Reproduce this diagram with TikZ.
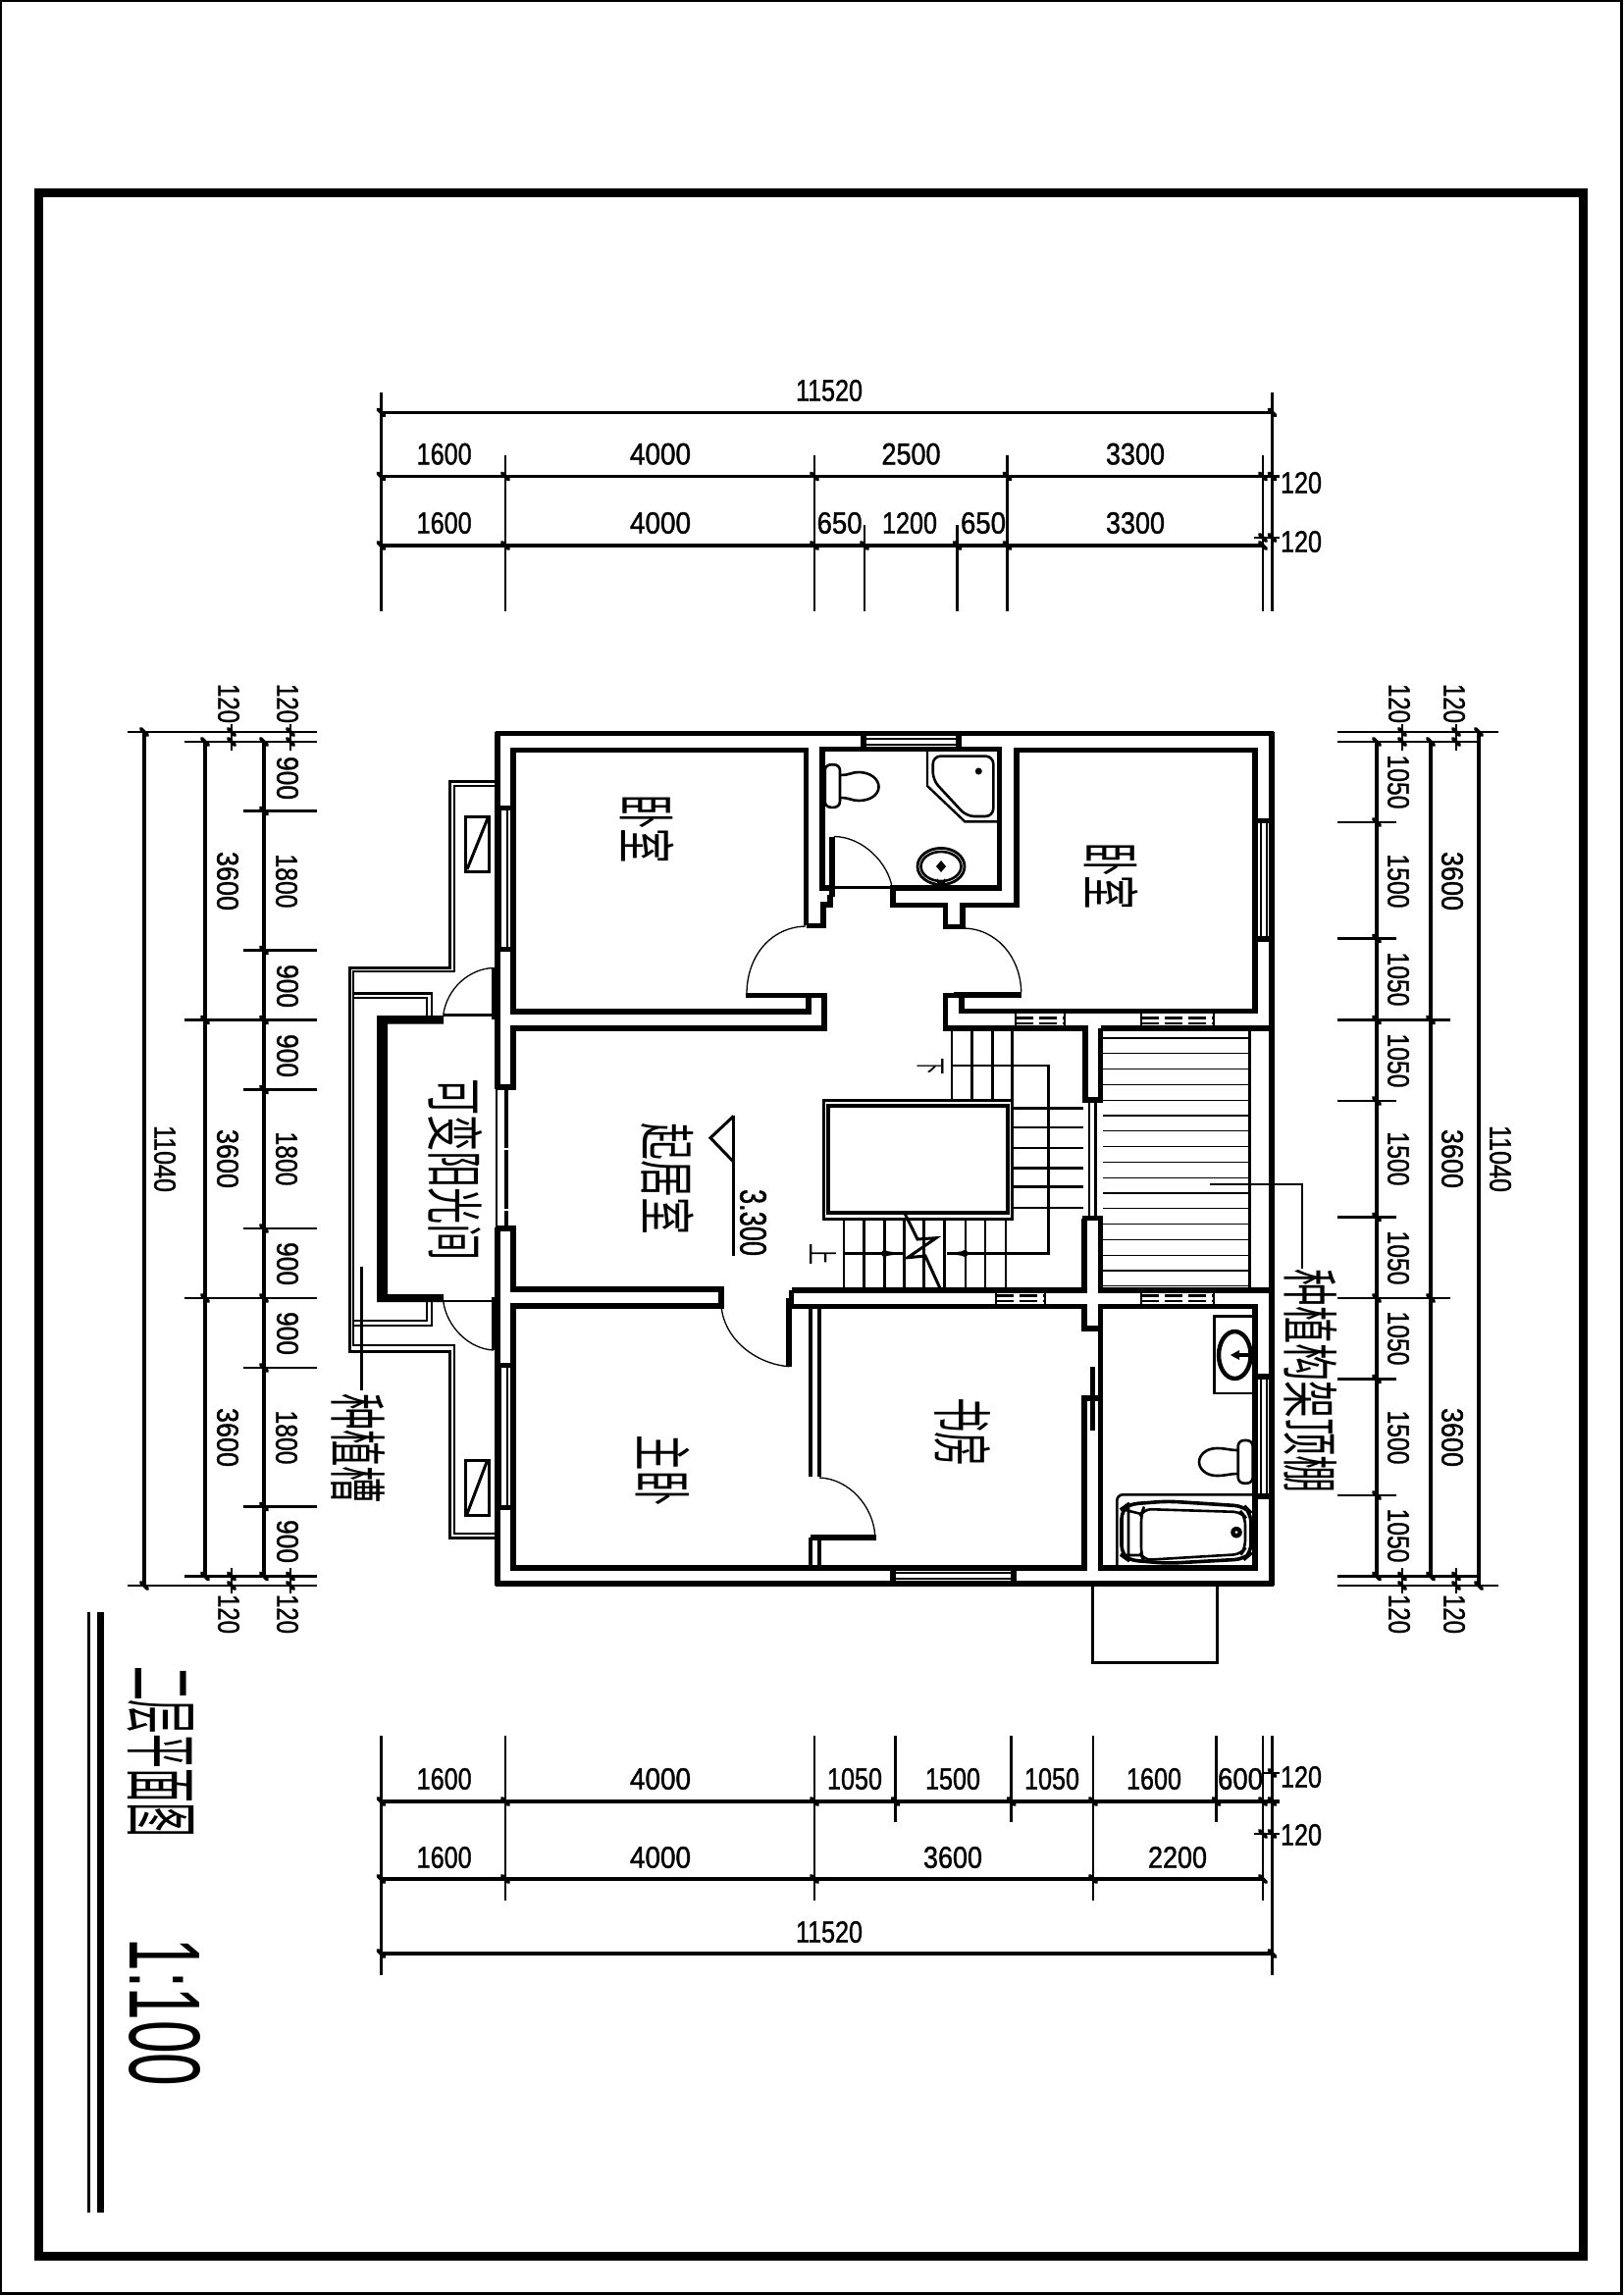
\documentclass[tikz,border=0pt]{standalone}
\usepackage{graphicx}
\usepackage{fontspec}
\setmainfont[FakeBold=1.2]{Liberation Sans}
\newfontfamily\cjk{Noto Sans CJK SC}
\newfontfamily\thinf[FakeBold=0]{Liberation Sans}
\newlength{\pxu}\setlength{\pxu}{0.5pt}
\newcounter{lb}
\tikzset{
 wl/.style={line width=2.6pt,line cap=butt,line join=miter},
 thn/.style={line width=1.3pt},
 hair/.style={line width=0.65pt},
 dimln/.style={line width=1.6pt},
 ext/.style={line width=1.35pt},
 tickm/.style={line width=1.9pt,line cap=round},
 wcap/.style={line width=2.6pt},
 fix/.style={line width=1.3pt},
 lbl/.style={inner sep=0pt,outer sep=0pt},
}
\newcommand\hn[4]{\stepcounter{lb}\node[lbl] (n\thelb) at (#1,#2) {\resizebox*{#3\pxu}{22\pxu}{#4}};}
\newcommand\vn[4]{\stepcounter{lb}\node[lbl,rotate=-90] (n\thelb) at (#1,#2) {\resizebox*{#3\pxu}{22\pxu}{#4}};}
\newcommand\cn[5]{\stepcounter{lb}\node[lbl,rotate=-90] (n\thelb) at (#1,#2) {\resizebox*{#3\pxu}{#4\pxu}{\cjk #5}};}
\newcommand\tk[2]{\draw[tickm,shift={(#1,#2)}] (-3.2,-3.2)--(3.2,3.2);}
\begin{document}
\begin{tikzpicture}[x=0.5pt,y=-0.5pt]
\useasboundingbox (0,0) rectangle (1654,2339);
\fill[white] (0,0) rectangle (1654,2339);
% frames
\draw[line width=1.2pt] (1,1) rectangle (1652.5,2337.5);
\draw[line width=4.5pt] (39.5,196.5) rectangle (1613.5,2299);
% title rules
\fill (89,1643) rectangle (92,2255);
\fill (99,1643) rectangle (105.7,2255);
\cn{164}{1785}{174}{68}{二层平面图}
\stepcounter{lb}\node[lbl,rotate=-90] (n\thelb) at (168.5,2051) {\resizebox*{151\pxu}{73\pxu}{\thinf 1:100}};

% TOP DIMENSIONS
\draw[dimln] (388.4,420.3)--(1296.5,420.3);
\draw[dimln] (388.4,485.5)--(1304,485.5);
\draw[dimln] (388.4,556)--(1287,556);
\draw[thn] (1278,548)--(1304,548);
\draw[ext] (388.4,400)--(388.4,623);
\draw[ext] (1296.5,400)--(1296.5,623);
\foreach \x in {515,830,1026.5,1287}{\draw[ext] (\x,464)--(\x,623);}
\foreach \x in {881,975.6}{\draw[ext] (\x,535)--(\x,623);}
\foreach \x in {388.4,1296.5}{\tk{\x}{420.3}}
\foreach \x in {388.4,515,830,1026.5,1287,1296.5}{\tk{\x}{485.5}}
\foreach \x in {388.4,515,830,881,975.6,1026.5,1287}{\tk{\x}{556}}
\foreach \x in {1287,1296.5}{\tk{\x}{548}}
\hn{845}{398}{68}{11520}
\hn{452.7}{462.7}{56}{1600}\hn{673}{462.7}{62}{4000}\hn{928.5}{462.7}{60}{2500}\hn{1157}{462.7}{60}{3300}
\hn{452.7}{533}{56}{1600}\hn{673}{533}{62}{4000}\hn{855.6}{533}{46}{650}\hn{927}{533}{56}{1200}\hn{1002}{533}{46}{650}\hn{1157}{533}{60}{3300}
\hn{1326}{492}{42}{120}\hn{1326}{552}{42}{120}

% BOTTOM DIMENSIONS
\draw[dimln] (388.4,1836)--(1304,1836);
\draw[dimln] (388.4,1915)--(1287,1915);
\draw[dimln] (388.4,1991)--(1296.5,1991);
\draw[thn] (1287,1807)--(1304,1807);
\draw[thn] (1278,1869)--(1304,1869);
\draw[ext] (388.4,1769)--(388.4,2013);
\draw[ext] (1296.5,1769)--(1296.5,2013);
\foreach \x in {515,830,1114,1287}{\draw[ext] (\x,1769)--(\x,1937);}
\foreach \x in {912.6,1030.7,1239.6}{\draw[ext] (\x,1769)--(\x,1857);}
\foreach \x in {388.4,515,830,912.6,1030.7,1114,1239.6,1287,1296.5}{\tk{\x}{1836}}
\foreach \x in {388.4,515,830,1114,1287}{\tk{\x}{1915}}
\foreach \x in {388.4,1296.5}{\tk{\x}{1991}}
\foreach \x in {1287,1296.5}{\tk{\x}{1869}}
\tk{1296.5}{1807}
\hn{452.7}{1813}{56}{1600}\hn{673}{1813}{62}{4000}\hn{871}{1813}{56}{1050}\hn{971}{1813}{56}{1500}\hn{1072}{1813}{56}{1050}\hn{1176}{1813}{56}{1600}\hn{1264}{1813}{46}{600}
\hn{452.7}{1893}{56}{1600}\hn{673}{1893}{62}{4000}\hn{971}{1893}{60}{3600}\hn{1200}{1893}{60}{2200}
\hn{845}{1969}{68}{11520}
\hn{1326}{1811}{42}{120}\hn{1326}{1870}{42}{120}

% LEFT DIMENSIONS
\draw[ext] (130,746)--(323,746);
\draw[ext] (188,756)--(323,756);
\draw[ext] (188,1606.5)--(323,1606.5);
\draw[ext] (130,1616)--(323,1616);
\draw[ext] (188,1039.5)--(323,1039.5);
\draw[ext] (188,1323)--(323,1323);
\foreach \y in {826.5,968.5,1110.5,1252,1394,1535.5}{\draw[ext] (248,\y)--(323,\y);}
\draw[dimln] (147,746)--(147,1616);
\draw[dimln] (209,756)--(209,1606.5);
\draw[dimln] (269,756)--(269,1606.5);
\tk{147}{746}\tk{147}{1616}
\foreach \y in {756,1039.5,1323,1606.5}{\tk{209}{\y}}
\foreach \y in {756,826.5,968.5,1039.5,1110.5,1252,1323,1394,1535.5,1606.5}{\tk{269}{\y}}
\foreach \x in {236,296}{
 \draw[thn] (\x,738)--(\x,765);\draw[thn] (\x,1598)--(\x,1624);
 \tk{\x}{746}\tk{\x}{756}\tk{\x}{1606.5}\tk{\x}{1616}}
\vn{168}{1181}{68}{11040}
\vn{233}{717}{40}{120}\vn{293}{717}{40}{120}\vn{233}{1645}{40}{120}\vn{293}{1645}{40}{120}
\vn{232}{898}{60}{3600}\vn{232}{1181}{60}{3600}\vn{232}{1465}{60}{3600}
\vn{293}{793}{44}{900}\vn{292}{898}{55}{1800}\vn{293}{1005}{44}{900}
\vn{293}{1076}{44}{900}\vn{292}{1181}{55}{1800}\vn{293}{1288}{44}{900}
\vn{293}{1359}{44}{900}\vn{292}{1465}{55}{1800}\vn{293}{1571}{44}{900}

% RIGHT DIMENSIONS
\draw[ext] (1363,746)--(1527,746);
\draw[ext] (1363,756)--(1507,756);
\draw[ext] (1363,1606.5)--(1507,1606.5);
\draw[ext] (1363,1616)--(1527,1616);
\draw[ext] (1363,1039.5)--(1478,1039.5);
\draw[ext] (1363,1323)--(1478,1323);
\foreach \y in {838,956.5,1122,1240.5,1405.5,1524}{\draw[ext] (1363,\y)--(1423,\y);}
\draw[dimln] (1403,756)--(1403,1606.5);
\draw[dimln] (1458,756)--(1458,1606.5);
\draw[dimln] (1507,746)--(1507,1616);
\tk{1507}{746}\tk{1507}{1616}
\foreach \y in {756,1039.5,1323,1606.5}{\tk{1458}{\y}}
\foreach \y in {756,838,956.5,1039.5,1122,1240.5,1323,1405.5,1524,1606.5}{\tk{1403}{\y}}
\foreach \x in {1429,1484}{
 \draw[thn] (\x,738)--(\x,765);\draw[thn] (\x,1598)--(\x,1624);
 \tk{\x}{746}\tk{\x}{756}\tk{\x}{1606.5}\tk{\x}{1616}}
\vn{1529}{1181}{68}{11040}
\vn{1426}{717}{40}{120}\vn{1482}{717}{40}{120}\vn{1426}{1645}{40}{120}\vn{1482}{1645}{40}{120}
\vn{1480}{898}{60}{3600}\vn{1480}{1181}{60}{3600}\vn{1480}{1465}{60}{3600}
\vn{1425}{797}{55}{1050}\vn{1425}{898}{55}{1500}\vn{1425}{998}{55}{1050}
\vn{1425}{1081}{55}{1050}\vn{1425}{1181}{55}{1500}\vn{1425}{1282}{55}{1050}
\vn{1425}{1364}{55}{1050}\vn{1425}{1465}{55}{1500}\vn{1425}{1565}{55}{1050}

% OUTER WALLS
\draw[wl] (507,745.5)--(507,1110);
\draw[wl] (507,1251)--(507,1616);
\draw[wl] (505,747.7)--(1298,747.7);
\draw[wl] (1296,745.5)--(1296,1616);
\draw[wl] (505,1614)--(1298,1614);
% rooms
\draw[wl] (821.7,943.4)--(821.7,764.5)--(523,764.5)--(523,1031)--(824,1031)--(824,1014);
\draw[wl] (821.7,943.4)--(839,943.4)--(839,922)--(846,922)--(846,912);
\draw[wl] (846,905)--(838,905)--(838,763.5)--(1018.3,763.5)--(1018.3,905)--(910,905)--(910,922.5)--(963.3,922.5)--(963.3,944.6)--(981,944.6)--(981,922.5)--(1036,922.5)--(1036,764.3)--(1279,764.3)--(1279,1030.4)--(980,1030.4)--(980,1014.6);
\draw[line width=2.8pt] (847.7,852.5)--(847.7,914);
\draw[thn] (850,904.5)--(910,904.5);
\draw[wl] (972,1014.6)--(963.3,1014.6)--(963.3,1048)--(1106,1048)--(1106,1121);
\draw[wl] (1121.7,1121)--(1121.7,1048);
\draw[wl] (1121.7,1048)--(1296,1048);
\draw[line width=2.8pt] (971.7,1013.8)--(1040.7,1013.8);
\draw[line width=2.8pt] (760,1014.6)--(830.7,1014.6);
\draw[wl] (830.7,1014.6)--(840,1014.6)--(840,1048)--(523,1048)--(523,1108);
\draw[wl] (523,1251)--(523,1314)--(735,1314)--(735,1331)--(523,1331)--(523,1598)--(1105,1598)--(1105,1425)--(1121.7,1425);
\draw[wl] (806.7,1315)--(806.7,1331.7)--(1105,1331.7)--(1105,1354)--(1121.7,1354);
\draw[wl] (806.7,1315)--(1105,1315)--(1105,1241.7);
\draw[wl] (1121.7,1241.7)--(1121.7,1315)--(1296,1315);
\draw[wl] (1121.7,1598)--(1121.7,1331.7)--(1279,1331.7)--(1279,1598)--cycle;
\draw[line width=3pt] (804,1323)--(804,1392.7);
\draw[line width=2.2pt] (1113.3,1393.3)--(1113.3,1458);
\draw[line width=1.6pt] (826,1331.7)--(826,1505) (835,1331.7)--(835,1505);
\draw[line width=1.6pt] (826,1566.7)--(826,1598) (835,1566.7)--(835,1598);
\draw[line width=2.8pt] (826,1566.7)--(892.7,1566.7);
% door arcs
\draw[hair] (761,1013) .. controls (761,975) and (785,945) .. (821,944);
\draw[hair] (981,946) .. controls (1015,946) and (1040,975) .. (1040.7,1011);
\draw[hair] (850,852.5) .. controls (880,853) and (905,880) .. (909,904);
\draw[hair] (735,1331) .. controls (738,1365) and (770,1390) .. (804,1392.7);
\draw[hair] (835,1506) .. controls (865,1507) and (890,1535) .. (891.7,1565);
\draw[hair] (503,986.5) .. controls (478,987) and (455,1008) .. (451.7,1034.7);
\draw[hair] (451.7,1326) .. controls (455,1352) and (478,1375) .. (503,1376);
% windows left
\foreach \wa/\wb in {823.6/967.8,1391.7/1536.7}{
 \foreach \x in {510,517}{\draw[thn] (\x,\wa)--(\x,\wb);}
 \draw[wcap] (505,\wa)--(526,\wa);\draw[wcap] (505,\wb)--(526,\wb);}
% living window
\draw[thn] (506,1110)--(506,1251);
\draw[line width=2.2pt,dash pattern=on 30pt off 1pt] (516,1110)--(516,1251);
\draw[wcap] (505,1108)--(526,1108);\draw[wcap] (505,1252)--(526,1252);
% balcony doors
\draw[line width=2.4pt] (503,986)--(503,1039);
\draw[line width=2.4pt] (503,1322)--(503,1376);
\draw[thn] (451.7,1034.7)--(505,1034.7);
\draw[thn] (451.7,1326)--(505,1326);
% top window
\foreach \y in {753,759}{\draw[thn] (880,\y)--(977,\y);}
\draw[wcap] (880,746)--(880,765);\draw[wcap] (977,746)--(977,765);
% right windows
\foreach \wa/\wb in {836.6/957,1403/1525}{
 \foreach \x in {1285,1291}{\draw[thn] (\x,\wa)--(\x,\wb);}
 \draw[wcap] (1277,\wa)--(1298,\wa);\draw[wcap] (1277,\wb)--(1298,\wb);}
% corridor window
\foreach \x in {1110,1116.7}{\draw[thn] (\x,1121)--(\x,1241.7);}
\draw[wcap] (1103,1121)--(1124,1121);\draw[wcap] (1103,1241.7)--(1124,1241.7);
% bottom window
\foreach \y in {1603,1609}{\draw[thn] (910,\y)--(1033,\y);}
\draw[wcap] (910,1596)--(910,1616);\draw[wcap] (1033,1596)--(1033,1616);
% dashed wall windows
\foreach \wa/\wb/\wt/\wu in {1035/1085/1032/1048,1163/1237/1032/1048,1015/1065/1315/1331.7,1163/1237/1315/1331.7}{
 \draw[thn] (\wa,\wt)--(\wa,\wu);\draw[thn] (\wb,\wt)--(\wb,\wu);
 \draw[line width=1.4pt,dash pattern=on 9pt off 3pt] (\wa,\wt+5.5)--(\wb,\wt+5.5);
 \draw[line width=1.4pt,dash pattern=on 9pt off 3pt] (\wa,\wt+11)--(\wb,\wt+11);}
% balcony planter lines
\draw[line width=1.5pt] (505,796)--(458,796)--(458,986.5)--(356,986.5)--(356,1377)--(458,1377)--(458,1567.7)--(505,1567.7);
\draw[line width=1.1pt] (505,801)--(463,801)--(463,990)--(360,990)--(360,1371)--(463,1371)--(463,1563)--(505,1563);
\draw[line width=1.2pt] (361,1012.4)--(440,1012.4)--(440,1034.7);
\draw[line width=1.2pt] (361,1017)--(435,1017)--(435,1034.7);
\draw[line width=1.2pt] (361,1351)--(440,1351)--(440,1326);
\draw[line width=1.2pt] (361,1346)--(435,1346)--(435,1326);
% sunroom thick wall
\fill (452,1035)--(384,1035)--(384,1327)--(452,1327)--(452,1319)--(395,1319)--(395,1043.5)--(452,1043.5)--cycle;
% AC boxes
\draw[line width=1.5pt] (474.3,832.5) rectangle (498.3,888.3);
\draw[line width=1.5pt] (497,834)--(476,886);
\draw[line width=1.5pt] (474.3,1488.3) rectangle (498.3,1544.3);
\draw[line width=1.5pt] (496,1490)--(476,1543);
% leaders
\draw[thn] (368.3,1290.5)--(368.3,1416.7);
\draw[hair] (1232.7,1207)--(1327,1207)--(1327,1293);
% stair
\draw[line width=1.5pt] (839.3,1121.3) rectangle (1031.7,1242);
\draw[line width=2pt] (844.3,1127.3) rectangle (1027.3,1236);
\foreach \x in {970,990.7,1011.7,1031.7}{\draw[line width=1.3pt] (\x,1048)--(\x,1121);}
\foreach \y in {1129.3,1149,1170,1190.5,1209.5,1231}{\draw[line width=1.3pt] (1032,\y)--(1104,\y);}
\foreach \x in {860,880.7,901.7,921.7,941.7,962.7,984,1004,1025}{\draw[line width=1.3pt] (\x,1242)--(\x,1313);}
\draw[line width=1.3pt] (970,1085.8)--(1068.3,1085.8)--(1068.3,1277.5)--(965,1277.5);
\draw[line width=1.3pt] (860,1277.5)--(920,1277.5);
\fill (965,1277.5)--(985,1274.5)--(985,1280.5)--cycle;
\fill (920,1277.5)--(900,1274.5)--(900,1280.5)--cycle;
\fill (983,1277.5) circle (3.5);
\fill (901.5,1277.5) circle (3.5);
\draw[line width=1.5pt] (921.7,1236)--(935,1263)--(954,1261.7)--(925,1281.7)--(943,1280)--(958,1313);
% terrace
\foreach \i in {0,...,16}{\draw[hair] (1124,{1058+15.8*\i})--(1271.7,{1058+15.8*\i});}
\draw[line width=1.3pt] (1273.3,1050)--(1273.3,1313);
% step below
\draw[line width=1.5pt] (1113.3,1615)--(1113.3,1694.3)--(1240,1694.3)--(1240,1615);
% toilet upper
\draw[fix,rounded corners=3pt] (840.7,779.3) rectangle (856,822.8);
\draw[fix] (856,790) .. controls (866,790) and (868,787) .. (875,787) .. controls (887,787) and (895.5,794) .. (895.5,801.8) .. controls (895.5,810) and (887,816) .. (875,816) .. controls (868,816) and (866,813) .. (856,813);
% shower
\draw[line width=1.2pt] (945,764)--(945,801)--(983.3,837.4)--(1018,837.4);
\draw[fix,rounded corners=4pt] (950.7,770.6)--(1012.3,770.6)--(1012.3,832)--(985,832)--(950.7,795)--cycle;
\fill (997.3,786) circle (3.5);
% sink upper
\draw[line width=1.4pt] (959,883) ellipse (24 and 18.6);
\draw[fix] (959,883) ellipse (20.5 and 15);
\fill (959,877)--(964,883)--(959,889)--(954,883)--cycle;
\fill (955,904)--(955,895) arc (180:0:4 and 3)--(963,904)--cycle;
% sink lower
\draw[fix] (1279,1341.7)--(1237.3,1341.7)--(1237.3,1420)--(1279,1420);
\draw[line width=2.2pt] (1258.3,1381) ellipse (16.3 and 24);
\fill (1254,1381)--(1263,1376)--(1263,1386)--cycle;
\draw[line width=1.6pt] (1263,1381)--(1279,1381);
% toilet lower
\draw[fix,rounded corners=3pt] (1261.7,1468) rectangle (1276.7,1511.7);
\draw[fix] (1261.7,1478) .. controls (1252,1478) and (1250,1476) .. (1240,1476) .. controls (1229,1476) and (1222,1483) .. (1222,1490) .. controls (1222,1497) and (1229,1504) .. (1240,1504) .. controls (1250,1504) and (1252,1502) .. (1261.7,1502);
% bath
\draw[fix,rounded corners=3pt] (1138.3,1596.7)--(1138.3,1523.3)--(1279,1523.3);
\draw[line width=1.8pt,rounded corners=5pt] (1143,1538)--(1150,1533)--(1190,1530)--(1268,1535)--(1275,1542)--(1275,1583)--(1268,1589)--(1190,1593.3)--(1150,1590)--(1143,1585)--cycle;
\draw[fix,rounded corners=4pt] (1165,1538)--(1265,1541)--(1269,1546)--(1269,1578)--(1265,1584)--(1165,1590)--(1163,1585)--(1163,1543)--cycle;
\draw[fix] (1150,1535)--(1150,1588) (1143,1538)--(1163,1543) (1143,1585)--(1163,1585);
\fill (1260,1561.7) circle (5.8);
\fill[white] (1260,1561.7) circle (1.5);
% elevation
\draw[line width=1.5pt] (747.7,1137.4)--(724,1159.7)--(747.7,1184.3);
\draw[line width=1.5pt] (747.7,1137.4)--(747.7,1280);
\stepcounter{lb}\node[lbl,rotate=-90] (n\thelb) at (767.5,1246) {\resizebox*{68\pxu}{27\pxu}{3.300}};
% room labels
\cn{659.5}{844.5}{71}{55}{卧室}
\cn{1132.5}{892.5}{69}{55}{卧室}
\cn{680}{1201}{114}{54}{起居室}
\cn{464.5}{1192}{186}{55}{可变阳光间}
\cn{365.5}{1476}{112}{55}{种植槽}
\cn{675.5}{1498.5}{73}{55}{主卧}
\cn{981.5}{1459.5}{71}{57}{书房}
\cn{1336}{1407.5}{229}{54}{种植构架顶棚}
\cn{948.5}{1086.5}{17}{27}{下}
\cn{838.5}{1278}{22}{27}{上}
\end{tikzpicture}
\end{document}
